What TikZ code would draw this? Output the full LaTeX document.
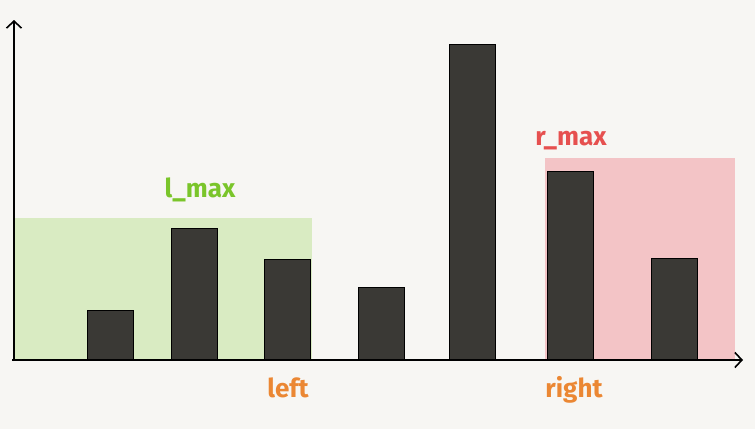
\documentclass[tikz,border=0pt]{standalone}
\usepackage{fontspec}
\setmainfont{Fira Sans}
\usepackage{xcolor}
\usetikzlibrary{arrows.meta,positioning}
\definecolor{PaperBg}{HTML}{F7F6F3}
\definecolor{BarInk}{HTML}{3A3935}
\definecolor{LeftZone}{HTML}{D9EBC2}
\definecolor{RightZone}{HTML}{F3C4C6}
\definecolor{LeftInk}{HTML}{7AC52A}
\definecolor{RightInk}{HTML}{E6504F}
\definecolor{PtrInk}{HTML}{EB8733}

\begin{document}
\begin{tikzpicture}[
  x=1pt,y=-1pt,
  zone/.style={draw=none,inner sep=0pt,anchor=south west},
  bar/.style={draw=black,line width=1pt,fill=BarInk,inner sep=0pt,minimum width=46pt,anchor=south},
  tag/.style={font=\fontsize{26}{29}\selectfont\bfseries,inner sep=0pt},
  axis/.style={-{Straight Barb[length=7pt,width=15pt,line width=1.6pt]},line width=1.6pt,draw=black}
]
\fill[PaperBg] (0,0) rectangle (755,429);
\useasboundingbox (0,0) rectangle (755,429);

\node[zone,fill=LeftZone,minimum width=298pt,minimum height=142pt] (lzone) at (14,360) {};
\node[zone,fill=RightZone,minimum width=190pt,minimum height=202pt] (rzone) at (545,360) {};

\node[bar,minimum height=49pt] (h1) at (110,360) {};
\node[bar,minimum height=131pt] (h2) at (194,360) {};
\node[bar,minimum height=100pt] (h3) at (287,360) {};
\node[bar,minimum height=72pt] (h4) at (381.5,360) {};
\node[bar,minimum height=315pt] (h5) at (472.5,360) {};
\node[bar,minimum height=188pt] (h6) at (570,360) {};
\node[bar,minimum height=101pt] (h7) at (674,360) {};

\coordinate (origin) at (14,361);
\coordinate (ytip) at (14,20);
\coordinate (xtip) at (743,360);
\draw[axis] (origin) -- (ytip);
\draw[axis] (12,360) -- (xtip);

\node[tag,text=LeftInk] (lmax) at (200,190) {l\_max};
\node[tag,text=RightInk] (rmax) at (571,141) {r\_max};
\node[tag,text=PtrInk] (left) at (288,388) {left};
\node[tag,text=PtrInk] (right) at (574,390) {right};
\end{tikzpicture}
\end{document}
